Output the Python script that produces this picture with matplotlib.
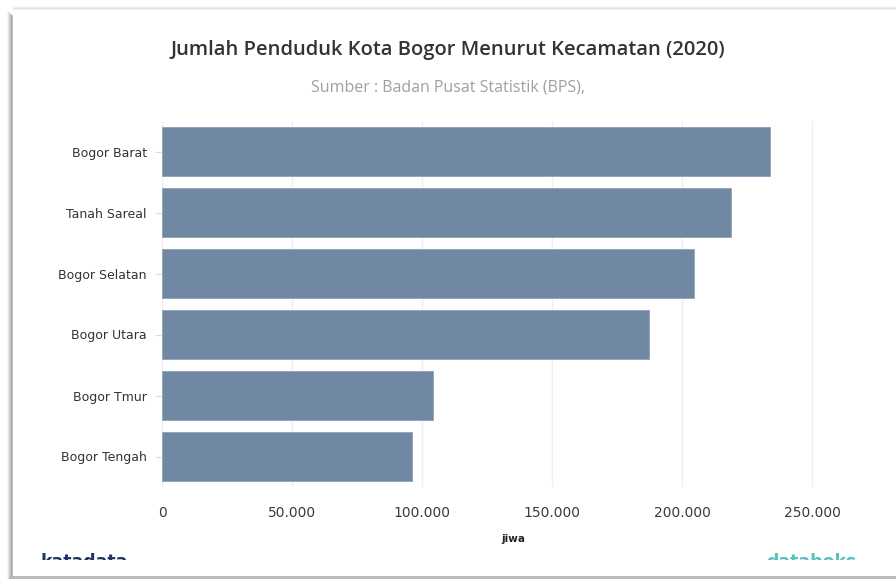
import numpy as np
import matplotlib.pyplot as plt
from matplotlib.patches import Rectangle
from matplotlib.lines import Line2D
from matplotlib.ticker import FuncFormatter

# data (jiwa)
kecamatan = ["Bogor Barat", "Tanah Sareal", "Bogor Selatan",
             "Bogor Utara", "Bogor Tmur", "Bogor Tengah"]
penduduk = [234000, 218800, 204600, 187200, 104300, 96200]
xticks = [0, 50000, 100000, 150000, 200000, 250000]

W, H = 896, 583
fig = plt.figure(figsize=(W / 100, H / 100), dpi=100)
fig.patch.set_facecolor("white")

def fx(px):
    return px / W

def fy(py):
    return 1 - py / H

# card frame with soft shadow
for i, a in enumerate([0.05, 0.08, 0.12, 0.18, 0.28]):
    x = fx(8 + i)
    fig.add_artist(Line2D([x, x], [fy(12 + i), fy(578)], color="black",
                          alpha=a, lw=1.2, transform=fig.transFigure))
for i, a in enumerate([0.03, 0.05, 0.08]):
    y = fy(7 + i)
    fig.add_artist(Line2D([fx(14), 1], [y, y], color="black",
                          alpha=a, lw=1.2, transform=fig.transFigure))
fig.add_artist(Line2D([fx(10), 1], [fy(577), fy(577)], color="#b8b8b8",
                      lw=2, transform=fig.transFigure))

ax = fig.add_axes([fx(162), fy(487), fx(702), (487 - 121) / H])

y = np.arange(len(kecamatan))
ax.barh(y, penduduk, height=0.8, color="#7188a5", edgecolor="#8fa2ba",
        linewidth=0.6, zorder=2)
ax.set_ylim(len(kecamatan) - 0.5, -0.5)
ax.set_xlim(0, 270000)
ax.set_yticks(y)
ax.set_yticklabels(kecamatan, fontsize=9, color="#333333")
ax.set_xticks(xticks)
ax.xaxis.set_major_formatter(FuncFormatter(lambda v, p: f"{int(v):,}".replace(",", ".")))
ax.tick_params(axis="x", length=0, labelsize=10, labelcolor="#3a3a3a", pad=14)
ax.tick_params(axis="y", length=5, color="#dddddd", pad=6)
ax.grid(axis="x", color="#efefef", lw=1, zorder=0)
for s in ax.spines.values():
    s.set_visible(False)

ax.set_xlabel("jiwa", fontsize=7.5, fontweight="bold", color="#222222", labelpad=10)

fig.text(0.5, fy(50), "Jumlah Penduduk Kota Bogor Menurut Kecamatan (2020)",
         ha="center", va="center", fontsize=14.5, family="Open Sans",
         fontweight="semibold", color="#333333")
fig.text(0.5, fy(88), "Sumber : Badan Pusat Statistik (BPS),",
         ha="center", va="center", fontsize=11.5, family="Open Sans",
         color="#a0a0a0")

# cut-off logos at the bottom
fig.text(fx(40), fy(567), "katadata", ha="left", va="baseline", fontsize=12.5,
         fontweight="bold", color="#1f3166")
fig.text(fx(766), fy(567), "databoks", ha="left", va="baseline", fontsize=12.5,
         fontweight="bold", color="#58c0c0")
fig.add_artist(Rectangle((fx(14), fy(576)), 1, (576 - 560) / H,
                         facecolor="white", edgecolor="none",
                         transform=fig.transFigure, zorder=5))

fig.savefig("out.png", dpi=100)
